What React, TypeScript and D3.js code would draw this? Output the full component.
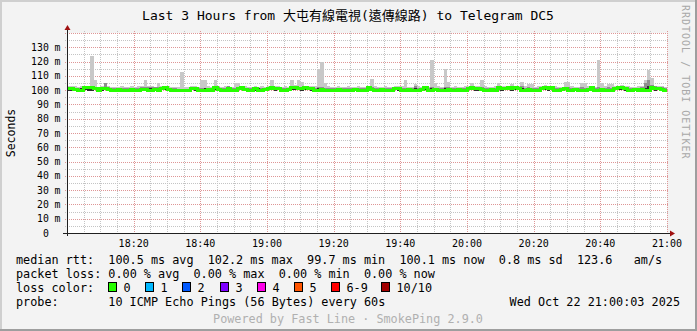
import React from 'react';
import * as d3 from 'd3';

const W = 697, H = 331;
const X0 = 67, X1 = 667, YB = 233, YT = 33;

const START = new Date(2025, 9, 22, 18, 0, 0);
const END = new Date(2025, 9, 22, 21, 0, 0);

const xTickLabels = ['18:20', '18:40', '19:00', '19:20', '19:40', '20:00', '20:20', '20:40', '21:00'];
const yTickValues = [0, 10, 20, 30, 40, 50, 60, 70, 80, 90, 100, 110, 120, 130];

// median rtt (ms) per minute
const medianRtt = [
  101.5, 101.3, 100.2, 100.0, 100.1, 101.6, 101.8, 101.7, 101.4, 100.0,
  101.5, 101.4, 100.8, 100.1, 100.0, 100.2, 100.1, 100.0, 100.0, 100.2,
  100.1, 100.0, 100.7, 100.2, 100.1, 100.0, 100.2, 100.1, 101.4, 101.6,
  100.2, 100.1, 100.0, 99.8, 99.7, 99.8, 99.8, 101.5, 101.3, 100.1,
  100.0, 100.1, 100.2, 100.0, 101.6, 100.8, 100.1, 100.0, 101.5, 100.1,
  100.0, 101.4, 101.7, 100.2, 100.0, 100.1, 100.9, 100.1, 100.0, 100.2,
  101.5, 101.6, 101.4, 101.3, 100.1, 100.0, 100.2, 101.6, 101.8, 101.5,
  101.4, 101.6, 101.3, 101.5, 100.1, 100.0, 100.2, 100.1, 100.0, 100.1,
  100.0, 100.2, 100.1, 100.0, 100.1, 100.0, 100.2, 100.1, 100.0, 100.1,
  101.6, 100.8, 100.1, 100.0, 100.2, 100.1, 100.0, 100.1, 101.5, 101.4,
  100.1, 100.0, 100.2, 100.1, 100.0, 100.1, 100.2, 101.6, 100.1, 100.0,
  100.2, 100.1, 100.0, 100.1, 100.2, 100.0, 100.1, 100.2, 100.0, 100.1,
  101.5, 101.6, 101.3, 100.9, 100.8, 100.1, 100.0, 100.2, 100.1, 101.6,
  101.4, 101.5, 101.7, 101.3, 101.6, 101.4, 100.1, 100.0, 100.2, 100.1,
  100.0, 100.1, 101.5, 101.7, 101.4, 101.6, 100.1, 100.0, 100.2, 101.5,
  100.1, 100.0, 100.2, 100.1, 100.0, 100.1, 100.2, 101.6, 100.1, 100.0,
  100.2, 100.1, 100.0, 100.1, 101.5, 101.7, 102.2, 101.4, 100.1, 100.0,
  100.2, 100.1, 100.8, 100.1, 100.0, 101.6, 101.5, 101.4, 100.8, 100.1,
];

// slowest ping per minute (top of the light smoke)
const maxRtt = [
  102.6, 103.0, 102.8, 102.5, 102.6, 103.2, 103.0, 124.0, 107.0, 102.4,
  103.0, 105.0, 102.8, 102.4, 102.3, 102.5, 102.6, 102.3, 102.4, 102.6,
  102.4, 102.6, 103.2, 107.0, 102.8, 102.6, 102.5, 105.0, 103.0, 103.2,
  102.6, 102.4, 102.3, 102.5, 113.0, 102.4, 102.3, 103.0, 102.8, 102.5,
  107.0, 107.0, 102.6, 102.4, 107.0, 103.0, 102.4, 102.6, 103.2, 102.5,
  105.0, 105.0, 103.0, 102.6, 102.4, 102.5, 102.8, 102.4, 102.6, 102.5,
  103.2, 107.0, 103.0, 103.2, 102.4, 102.6, 102.5, 107.0, 103.3, 107.0,
  106.0, 103.0, 103.2, 103.0, 102.6, 114.5, 119.7, 105.0, 102.6, 102.4,
  102.5, 102.6, 102.4, 102.5, 102.6, 102.3, 102.4, 102.6, 102.5, 102.4,
  103.2, 107.6, 102.6, 102.5, 102.4, 102.6, 102.5, 102.4, 103.0, 103.2,
  102.6, 107.0, 102.5, 102.4, 104.0, 102.6, 102.5, 103.2, 102.4, 121.0,
  105.0, 102.6, 102.5, 114.8, 106.0, 102.4, 102.6, 102.5, 102.4, 102.6,
  103.2, 105.0, 103.0, 102.8, 107.0, 102.6, 102.4, 102.5, 102.6, 105.0,
  103.0, 103.2, 103.1, 104.0, 103.0, 103.2, 106.0, 102.6, 104.0, 104.0,
  102.5, 102.6, 103.2, 103.6, 103.0, 103.2, 102.6, 102.4, 102.5, 106.0,
  106.0, 102.6, 102.4, 102.5, 105.0, 105.0, 102.6, 103.0, 102.5, 121.0,
  105.0, 102.6, 104.0, 104.0, 103.2, 103.0, 103.4, 103.2, 102.6, 102.4,
  102.5, 102.6, 103.0, 107.0, 114.0, 108.7, 103.2, 103.0, 103.0, 102.4,
];

// 9th ping (top of the medium smoke)
const p9Rtt = [
  102.3, 102.4, 101.8, 101.5, 101.8, 102.6, 102.5, 102.6, 102.4, 101.5,
  102.4, 105.0, 102.2, 101.4, 101.3, 101.5, 101.4, 101.3, 101.4, 101.6,
  101.5, 101.5, 102.2, 102.2, 102.4, 102.3, 102.2, 102.4, 102.5, 102.4,
  101.5, 101.4, 101.2, 101.0, 101.0, 101.0, 101.1, 102.4, 102.2, 101.5,
  101.6, 101.8, 101.5, 101.4, 102.5, 102.2, 101.4, 101.5, 102.6, 101.4,
  101.5, 102.5, 102.6, 101.5, 101.4, 101.5, 102.2, 101.6, 101.5, 101.4,
  102.4, 102.5, 102.3, 102.4, 101.5, 101.6, 101.8, 102.6, 102.6, 102.5,
  102.3, 102.4, 102.2, 102.5, 101.5, 102.2, 102.5, 101.8, 101.5, 101.4,
  101.4, 101.5, 101.4, 101.5, 101.4, 101.3, 101.4, 101.5, 101.4, 101.3,
  102.5, 102.4, 101.5, 101.4, 101.4, 101.5, 101.4, 101.3, 102.4, 102.3,
  101.5, 101.6, 101.4, 101.4, 102.6, 101.5, 101.4, 102.5, 101.4, 102.2,
  101.5, 101.4, 101.5, 102.4, 102.0, 101.4, 101.5, 101.4, 101.3, 101.5,
  102.4, 102.5, 102.3, 102.2, 102.2, 101.5, 101.4, 101.5, 101.4, 102.5,
  102.4, 102.5, 102.6, 103.0, 102.4, 102.3, 102.6, 101.5, 102.2, 101.8,
  101.5, 101.6, 102.4, 102.6, 102.3, 102.5, 101.5, 101.4, 101.5, 102.5,
  102.0, 101.5, 101.4, 101.5, 102.0, 101.8, 101.4, 102.5, 101.5, 102.2,
  101.8, 101.5, 102.0, 101.8, 102.4, 102.5, 103.0, 102.4, 101.5, 101.4,
  101.5, 101.5, 102.0, 105.0, 107.0, 103.5, 102.6, 102.4, 102.0, 101.4,
];

// 7th ping (top of the dark smoke)
const p7Rtt = [
  101.9, 101.8, 101.2, 101.0, 101.3, 102.0, 102.1, 102.0, 101.8, 101.0,
  102.0, 102.2, 101.5, 101.0, 101.0, 101.2, 101.0, 101.0, 101.1, 101.2,
  101.0, 101.0, 101.6, 101.8, 101.7, 101.8, 101.8, 101.6, 101.9, 102.0,
  101.0, 101.0, 100.8, 100.5, 100.6, 100.5, 100.6, 101.9, 101.7, 101.0,
  101.0, 101.2, 101.0, 101.0, 102.0, 101.5, 101.0, 101.0, 101.9, 101.0,
  101.0, 101.8, 102.1, 101.0, 101.0, 101.0, 101.6, 101.2, 101.0, 101.0,
  101.9, 102.0, 101.8, 101.7, 101.0, 101.0, 101.2, 102.0, 102.2, 101.9,
  101.8, 102.0, 101.7, 101.9, 101.0, 101.6, 101.8, 101.0, 101.0, 101.0,
  101.0, 101.0, 101.0, 101.0, 101.0, 101.0, 101.0, 101.0, 101.0, 101.0,
  102.0, 101.6, 101.0, 101.0, 101.0, 101.0, 101.0, 101.0, 101.9, 101.8,
  101.0, 101.0, 101.0, 101.0, 101.2, 101.0, 101.0, 102.0, 101.0, 101.5,
  101.0, 101.0, 101.0, 101.6, 101.2, 101.0, 101.0, 101.0, 101.0, 101.0,
  101.9, 102.0, 101.7, 101.5, 101.4, 101.0, 101.0, 101.0, 101.0, 102.0,
  101.8, 101.9, 102.1, 102.3, 102.0, 101.8, 101.3, 101.0, 101.2, 101.0,
  101.0, 101.0, 101.9, 102.1, 101.8, 102.0, 101.0, 101.0, 101.0, 101.9,
  101.0, 101.0, 101.0, 101.0, 101.0, 101.0, 101.0, 102.0, 101.0, 101.0,
  101.0, 101.0, 101.0, 101.0, 101.9, 102.1, 102.6, 101.8, 101.0, 101.0,
  101.0, 101.0, 101.4, 101.8, 102.8, 102.2, 101.9, 101.8, 101.4, 101.0,
];

// fastest ping per minute
const minRtt = [
  99.6, 99.7, 99.5, 99.4, 99.6, 99.8, 99.7, 99.6, 99.8, 99.5,
  99.7, 99.8, 99.6, 99.5, 99.4, 99.6, 99.5, 99.4, 99.5, 99.6,
  99.5, 99.4, 99.6, 99.5, 99.6, 99.4, 99.5, 99.6, 99.8, 99.9,
  99.5, 99.4, 99.3, 99.2, 99.2, 99.3, 99.2, 99.8, 99.7, 99.5,
  99.4, 99.5, 99.6, 99.4, 99.9, 99.6, 99.5, 99.4, 99.8, 99.5,
  99.4, 99.8, 99.9, 99.6, 99.5, 99.4, 99.6, 99.5, 99.4, 99.6,
  99.8, 99.9, 99.7, 99.8, 99.5, 99.4, 99.6, 99.9, 100.0, 99.8,
  99.7, 99.9, 99.8, 99.7, 99.5, 99.4, 99.6, 99.5, 99.4, 99.5,
  99.4, 99.6, 99.5, 99.4, 99.5, 99.4, 99.6, 99.5, 99.4, 99.5,
  99.9, 99.6, 99.5, 99.4, 99.6, 99.5, 99.4, 99.5, 99.8, 99.7,
  99.5, 99.4, 99.6, 99.5, 99.4, 99.5, 99.6, 99.9, 99.5, 99.4,
  99.6, 99.5, 99.4, 99.5, 99.6, 99.4, 99.5, 99.6, 99.4, 99.5,
  99.8, 99.9, 99.7, 99.6, 99.6, 99.5, 99.4, 99.6, 99.5, 99.9,
  99.7, 99.8, 100.0, 99.7, 99.9, 99.8, 99.5, 99.4, 99.6, 99.5,
  99.4, 99.5, 99.8, 100.0, 99.7, 99.9, 99.5, 99.4, 99.6, 99.8,
  99.5, 99.4, 99.6, 99.5, 99.4, 99.5, 99.6, 99.9, 99.5, 99.4,
  99.6, 99.5, 99.4, 99.5, 99.8, 100.0, 100.3, 99.7, 99.5, 99.4,
  99.5, 99.6, 99.6, 99.5, 99.4, 99.8, 99.7, 99.8, 99.6, 99.5,
];

const lossLabels = ['0', '1', '2', '3', '4', '5', '6-9', '10/10'];
const lossColors = ['#26ff00', '#00b8ff', '#0059ff', '#7e00ff', '#ff00ea', '#ff5500', '#ff0000', '#a10000'];

const statsLine1 = 'median rtt:  100.5 ms avg  102.2 ms max  99.7 ms min  100.1 ms now  0.8 ms sd  123.6   am/s';
const statsLine2 = 'packet loss: 0.00 % avg  0.00 % max  0.00 % min  0.00 % now';
const probeLine = 'probe:       10 ICMP Echo Pings (56 Bytes) every 60s';
const dateText = 'Wed Oct 22 21:00:03 2025';
const titleText = 'Last 3 Hours from 大屯有線電視(遠傳線路) to Telegram DC5';
const poweredText = 'Powered by Fast Line · SmokePing 2.9.0';

const MONO = "'DejaVu Sans Mono', 'Noto Sans CJK TC', monospace";
const CW = 7.1; // advance of the legend font

// place each run of non-space characters at its monospace column
function MonoRow({ str, x0, y }: { str: string; x0: number; y: number }) {
  const parts: { s: string; i: number }[] = [];
  const re = /\S+(?: \S+)*/g;
  let m: RegExpExecArray | null;
  while ((m = re.exec(str)) !== null) parts.push({ s: m[0], i: m.index });
  return (
    <>
      {parts.map((p, k) => (
        <text key={k} x={x0 + p.i * CW} y={y}>{p.s}</text>
      ))}
    </>
  );
}

export default function App() {
  const x = d3.scaleTime().domain([START, END]).range([X0, X1]);
  const y = d3.scaleLinear().domain([0, 140]).range([YB, YT]);

  const n = medianRtt.length;
  const t = (i: number) => new Date(START.getTime() + i * 60000);
  const idx = d3.range(n + 1);
  const v = (arr: number[], i: number) => arr[Math.min(i, n - 1)];

  const areaFor = (top: number[]) =>
    d3.area<number>()
      .x(i => x(t(i)))
      .y0(i => y(v(minRtt, i)))
      .y1(i => y(v(top, i)))
      .curve(d3.curveStepAfter)(idx) || '';

  const medLine = d3.line<number>()
    .x(i => x(t(i)))
    .y(i => y(v(medianRtt, i)))
    .curve(d3.curveStepAfter)(idx) || '';

  const minorY = d3.range(5, 140, 10);
  const majorY = d3.range(10, 141, 10);
  const minorTimes = d3.timeMinute.every(5)!.range(START, END).filter(d => d.getMinutes() % 20 !== 0);
  const majorTimes = d3.timeMinute.every(20)!.range(new Date(START.getTime() + 60000), new Date(END.getTime() + 1000));

  return (
    <svg width={W} height={H} style={{ position: 'absolute', left: 0, top: 0 }} xmlns="http://www.w3.org/2000/svg">
      <rect x={0} y={0} width={W} height={H} fill="#f3f3f3" />
      <rect x={0} y={0} width={W} height={2} fill="#cfcfcf" />
      <rect x={0} y={0} width={2} height={H} fill="#cfcfcf" />
      <rect x={0} y={H - 2} width={W} height={2} fill="#9e9e9e" />
      <rect x={W - 2} y={0} width={2} height={H} fill="#9e9e9e" />

      <rect x={X0} y={YT} width={X1 - X0} height={YB - YT} fill="#ffffff" />

      <g shapeRendering="crispEdges">
        {minorY.map(m => (
          <line key={'my' + m} x1={X0 - 2} x2={X1 + 2} y1={Math.round(y(m)) + 0.5} y2={Math.round(y(m)) + 0.5}
            stroke="#c4c4c4" strokeDasharray="1,1" />
        ))}
        {minorTimes.map((d, k) => (
          <line key={'mx' + k} x1={Math.round(x(d)) + 0.5} x2={Math.round(x(d)) + 0.5} y1={YT - 2} y2={YB + 2}
            stroke="#c4c4c4" strokeDasharray="1,1" />
        ))}
        {majorY.map(m => (
          <line key={'My' + m} x1={X0 - 2} x2={X1 + 2} y1={Math.round(y(m)) + 0.5} y2={Math.round(y(m)) + 0.5}
            stroke="#de9696" strokeDasharray="1,1" />
        ))}
        {majorTimes.map((d, k) => (
          <line key={'Mx' + k} x1={Math.round(x(d)) + 0.5} x2={Math.round(x(d)) + 0.5} y1={YT - 2} y2={YB + 2}
            stroke="#de9696" strokeDasharray="1,1" />
        ))}
      </g>

      <g shapeRendering="crispEdges">
        <path d={areaFor(maxRtt)} fill="#c8c8c8" />
        <path d={areaFor(p9Rtt)} fill="#8e8e8e" />
        <path d={areaFor(p7Rtt)} fill="#2e2e2e" />
      </g>
      <path d={medLine} fill="none" stroke="#26ff00" strokeWidth={3} shapeRendering="crispEdges" />

      <g shapeRendering="crispEdges">
        <line x1={X0 + 0.5} x2={X0 + 0.5} y1={YB + 3} y2={YT - 4} stroke="#202020" />
        <line x1={X0 - 4} x2={X1 + 4} y1={YB + 0.5} y2={YB + 0.5} stroke="#202020" />
      </g>
      <path d={`M${X0 - 2.5},${YT - 3} L${X0 + 3.5},${YT - 3} L${X0 + 0.5},${YT - 8} Z`} fill="#a01010" />
      <path d={`M${X1 + 3},${YB - 2.5} L${X1 + 3},${YB + 3.5} L${X1 + 8},${YB + 0.5} Z`} fill="#a01010" />

      <g fontFamily={MONO} fontSize={9.8} fill="#000">
        {yTickValues.map(m => (
          <g key={'yl' + m}>
            <text x={48.8} y={y(m) + 3.6} textAnchor="end">{m}</text>
            {m !== 0 && <text x={54.5} y={y(m) + 3.6}>m</text>}
          </g>
        ))}
      </g>
      <g fontFamily={MONO} fontSize={10} fill="#000" textAnchor="middle">
        {majorTimes.map((d, k) => (
          <text key={'xl' + k} x={x(d)} y={246.5}>{xTickLabels[k]}</text>
        ))}
      </g>

      <text x={348} y={19.5} textAnchor="middle" fontFamily={MONO} fontSize={13} fill="#000">{titleText}</text>
      <text transform="translate(14.5,133) rotate(-90)" textAnchor="middle" fontFamily={MONO} fontSize={11.5} fill="#000">Seconds</text>
      <text transform="translate(681.5,5) rotate(90)" fontFamily={MONO} fontSize={10} letterSpacing={1} fill="#a8a8a8">RRDTOOL / TOBI OETIKER</text>

      <g fontFamily={MONO} fontSize={11.8} fill="#000">
        <MonoRow str={statsLine1} x0={16} y={263.5} />
        <MonoRow str={statsLine2} x0={16} y={277.5} />
        <text x={16} y={291.5}>loss color:</text>
        <MonoRow str={probeLine} x0={16} y={305.5} />
        <text x={680} y={305.5} textAnchor="end">{dateText}</text>
      </g>
      <g fontFamily={MONO} fontSize={11.8}>
        {lossLabels.map((lab, k) => {
          const bx = [108, 145, 182, 219.5, 257, 294, 331, 381][k];
          return (
            <g key={'lg' + k}>
              <rect x={Math.round(bx) + 0.5} y={282.5} width={8} height={9} fill={lossColors[k]} stroke="#000" />
              <text x={Math.round(bx) + 15.5} y={291.5} fill="#000">{lab}</text>
            </g>
          );
        })}
      </g>
      <text x={348} y={322.5} textAnchor="middle" fontFamily={MONO} fontSize={11.8} fill="#b0b0b0">{poweredText}</text>
    </svg>
  );
}
